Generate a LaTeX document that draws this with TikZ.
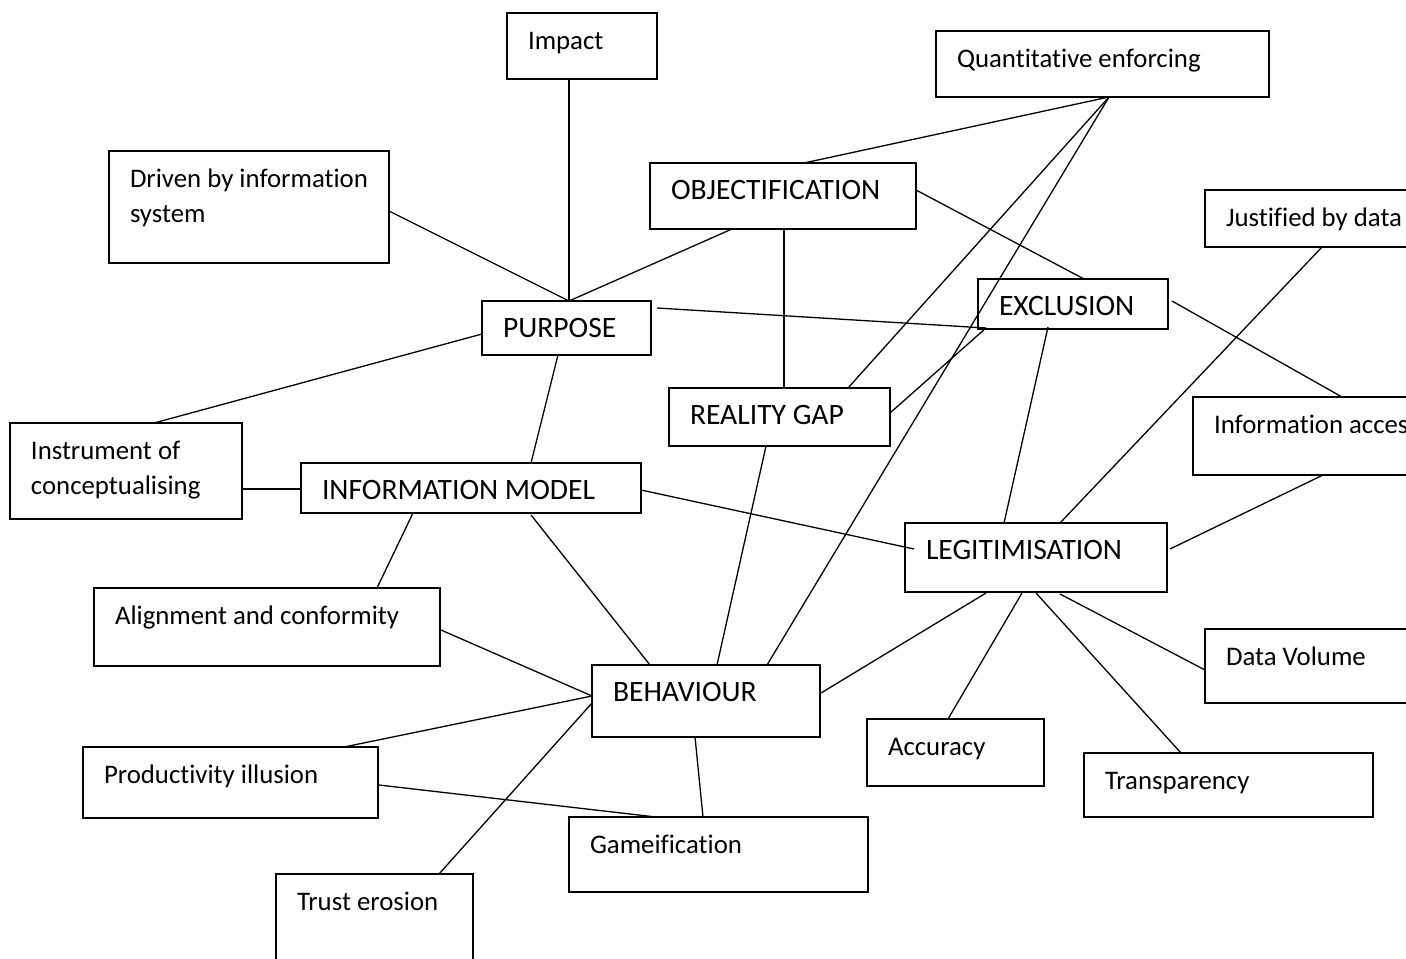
\documentclass[tikz,border=0pt]{standalone}
\usepackage{fontspec}
\setmainfont{Carlito}[Ligatures={NoCommon}]
\newcommand\capsz{\fontsize{14.8}{17.5}\selectfont}
\tikzset{
  box/.style={draw=black, line width=0.8pt, rectangle, inner sep=0pt, outer sep=0pt, fill=white},
  thickbox/.style={line width=1.3pt},
  lbl/.style={inner sep=0pt, outer sep=0pt, font=\fontsize{13.4}{17.5}\selectfont},
  conn/.style={draw=black, line width=0.65pt}
}
\newcommand\bx[7][]{%
  \node[box,#1, minimum width={(#5-#3)*0.5pt}, minimum height={(#6-#4)*0.5pt}] (#2) at ({(#3+#5)/2},{(#4+#6)/2}) {};
  \node[lbl, anchor=base west] (#2-t) at ([shift={(21,36)}]#2.north west) {#7};
}
\begin{document}
\begin{tikzpicture}[x=0.5pt,y=-0.5pt]
\useasboundingbox (0,0) rectangle (1406,958);
\clip (0,0) rectangle (1406,958);
\fill[white] (0,0) rectangle (1406,958);

% boxes
\bx[thickbox]{impact}{507}{13}{657}{79}{Impact}
\bx{quant}{936}{31}{1269}{97}{Quantitative enforcing}
\bx{driven}{109}{151}{389}{263}{\vtop{\baselineskip=17.5pt\hbox{Driven by information}\hbox{system}}}
\bx{obj}{650}{163}{916}{229}{\capsz OBJECTIFICATION}
\bx[thickbox]{just}{1205}{190}{1420}{247}{Justified by data}
\bx{excl}{978}{279}{1168}{329}{\capsz EXCLUSION}
\bx[thickbox]{purpose}{482}{301}{651}{355}{\capsz PURPOSE}
\bx{reality}{669}{388}{890}{446}{\capsz REALITY GAP}
\bx[thickbox]{infoacc}{1193}{397}{1440}{475}{Information access}
\bx[thickbox]{instr}{10}{423}{242}{519}{\vtop{\baselineskip=17.5pt\hbox{Instrument of}\hbox{conceptualising}}}
\bx{infomodel}{301}{463}{641}{513}{\capsz INFORMATION MODEL}
\bx{legit}{905}{523}{1167}{592}{\capsz LEGITIMISATION}
\bx[thickbox]{align}{94}{588}{440}{666}{Alignment and conformity}
\bx{datavol}{1205}{629}{1420}{703}{Data Volume}
\bx{behav}{592}{665}{820}{737}{\capsz BEHAVIOUR}
\bx{accuracy}{867}{719}{1044}{786}{Accuracy}
\bx{product}{83}{747}{378}{818}{Productivity illusion}
\bx{transp}{1084}{753}{1373}{817}{Transparency}
\bx{game}{569}{817}{868}{892}{Gameification}
\bx{trust}{276}{874}{473}{975}{Trust erosion}

% connectors
\draw[conn] ([shift={(62,66)}]impact.north west) -- ([shift={(87,0)}]purpose.north west);
\draw[conn] ([shift={(280,60)}]driven.north west) -- ([shift={(87,0)}]purpose.north west);
\draw[conn] ([shift={(82,66)}]obj.north west) -- ([shift={(87,0)}]purpose.north west);
\draw[conn] ([shift={(173,66)}]quant.north west) -- ([shift={(154,0)}]obj.north west);
\draw[conn] ([shift={(173,66)}]quant.north west) -- ([shift={(179,0)}]reality.north west);
\draw[conn] ([shift={(173,66)}]quant.north west) -- ([shift={(175,0)}]behav.north west);
\draw[conn] ([shift={(266,27)}]obj.north west) -- ([shift={(106,0)}]excl.north west);
\draw[conn] ([shift={(134,66)}]obj.north west) -- ([shift={(115,0)}]reality.north west);
\draw[conn] ([shift={(175,7)}]purpose.north west) -- ([shift={(8,49)}]excl.north west);
\draw[conn] ([shift={(8,49)}]excl.north west) -- ([shift={(221,25)}]reality.north west);
\draw[conn] ([shift={(70,48)}]excl.north west) -- ([shift={(99,0)}]legit.north west);
\draw[conn] ([shift={(194,22)}]excl.north west) -- ([shift={(149,0)}]infoacc.north west);
\draw[conn] ([shift={(117,57)}]just.north west) -- ([shift={(155,0)}]legit.north west);
\draw[conn] ([shift={(130,78)}]infoacc.north west) -- ([shift={(265,26)}]legit.north west);
\draw[conn] ([shift={(0,33)}]purpose.north west) -- ([shift={(144,0)}]instr.north west);
\draw[conn] ([shift={(76,54)}]purpose.north west) -- ([shift={(230,0)}]infomodel.north west);
\draw[conn] ([shift={(232,66)}]instr.north west) -- ([shift={(0,26)}]infomodel.north west);
\draw[conn] ([shift={(340,27)}]infomodel.north west) -- ([shift={(9,26)}]legit.north west);
\draw[conn] ([shift={(112,50)}]infomodel.north west) -- ([shift={(283,0)}]align.north west);
\draw[conn] ([shift={(230,52)}]infomodel.north west) -- ([shift={(58,0)}]behav.north west);
\draw[conn] ([shift={(97,58)}]reality.north west) -- ([shift={(125,0)}]behav.north west);
\draw[conn] ([shift={(347,42)}]align.north west) -- ([shift={(0,31)}]behav.north west);
\draw[conn] ([shift={(261,0)}]product.north west) -- ([shift={(0,31)}]behav.north west);
\draw[conn] ([shift={(163,0)}]trust.north west) -- ([shift={(0,38)}]behav.north west);
\draw[conn] ([shift={(229,28)}]behav.north west) -- ([shift={(81,70)}]legit.north west);
\draw[conn] ([shift={(103,72)}]behav.north west) -- ([shift={(134,0)}]game.north west);
\draw[conn] ([shift={(296,38)}]product.north west) -- ([shift={(87,0)}]game.north west);
\draw[conn] ([shift={(117,70)}]legit.north west) -- ([shift={(81,0)}]accuracy.north west);
\draw[conn] ([shift={(131,70)}]legit.north west) -- ([shift={(97,0)}]transp.north west);
\draw[conn] ([shift={(155,71)}]legit.north west) -- ([shift={(0,41)}]datavol.north west);
\end{tikzpicture}
\end{document}
